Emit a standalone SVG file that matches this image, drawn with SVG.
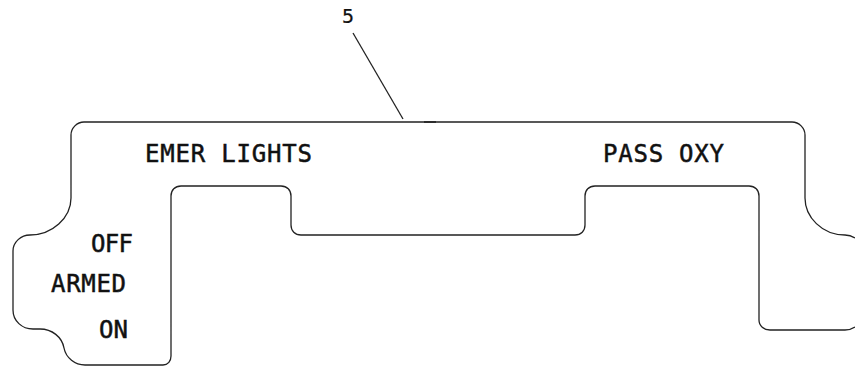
<svg xmlns="http://www.w3.org/2000/svg" width="855" height="366" viewBox="0 0 855 366">
<style>
.l{fill:none;stroke:#222;stroke-width:1.3}
.t{font-family:"DejaVu Sans Mono",monospace;font-size:24px;fill:#111;stroke:#111;stroke-width:.5}
</style>
<rect width="855" height="366" fill="#fff"/>
<g id="connectors">
<path class="l" d="M353 33L403 119"/>
<path d="M424 122H436" stroke="#222" stroke-width="1.6" fill="none"/>
</g>
<g id="panel">
<path class="l" d="M855 238C852 236 848 235 845 235C822 235 805 217 805 198V135C805 128 799 122 792 122H84C77 122 71 128 71 135V198C71 218 52 235 30 235C21 235 13 242 13 251V310C13 321 22 329 33 329H40C52 329 62 337 64 348C66 358 75 365 85 365H163C168 365 171 361 171 356V196C171 190 175 186 181 186H281C287 186 291 190 291 196V225C291 231 295 235 301 235H575C581 235 585 231 585 225V196C585 190 589 186 595 186H749C755 186 759 190 759 196V320C759 326 764 330 770 330H845C849 330 852 329 855 327"/>
</g>
<g id="label-5"><text class="t" x="342" y="23" style="font-size:20px;stroke-width:.2">5</text></g>
<g id="label-emer"><text class="t" x="145" y="162" textLength="167" lengthAdjust="spacing">EMER LIGHTS</text></g>
<g id="label-pass"><text class="t" x="603" y="162" textLength="121" lengthAdjust="spacing">PASS OXY</text></g>
<g id="label-off"><text class="t" x="91" y="252" textLength="42" lengthAdjust="spacing">OFF</text></g>
<g id="label-armed"><text class="t" x="51" y="292" textLength="75" lengthAdjust="spacing">ARMED</text></g>
<g id="label-on"><text class="t" x="99" y="338" textLength="29" lengthAdjust="spacing">ON</text></g>
</svg>
